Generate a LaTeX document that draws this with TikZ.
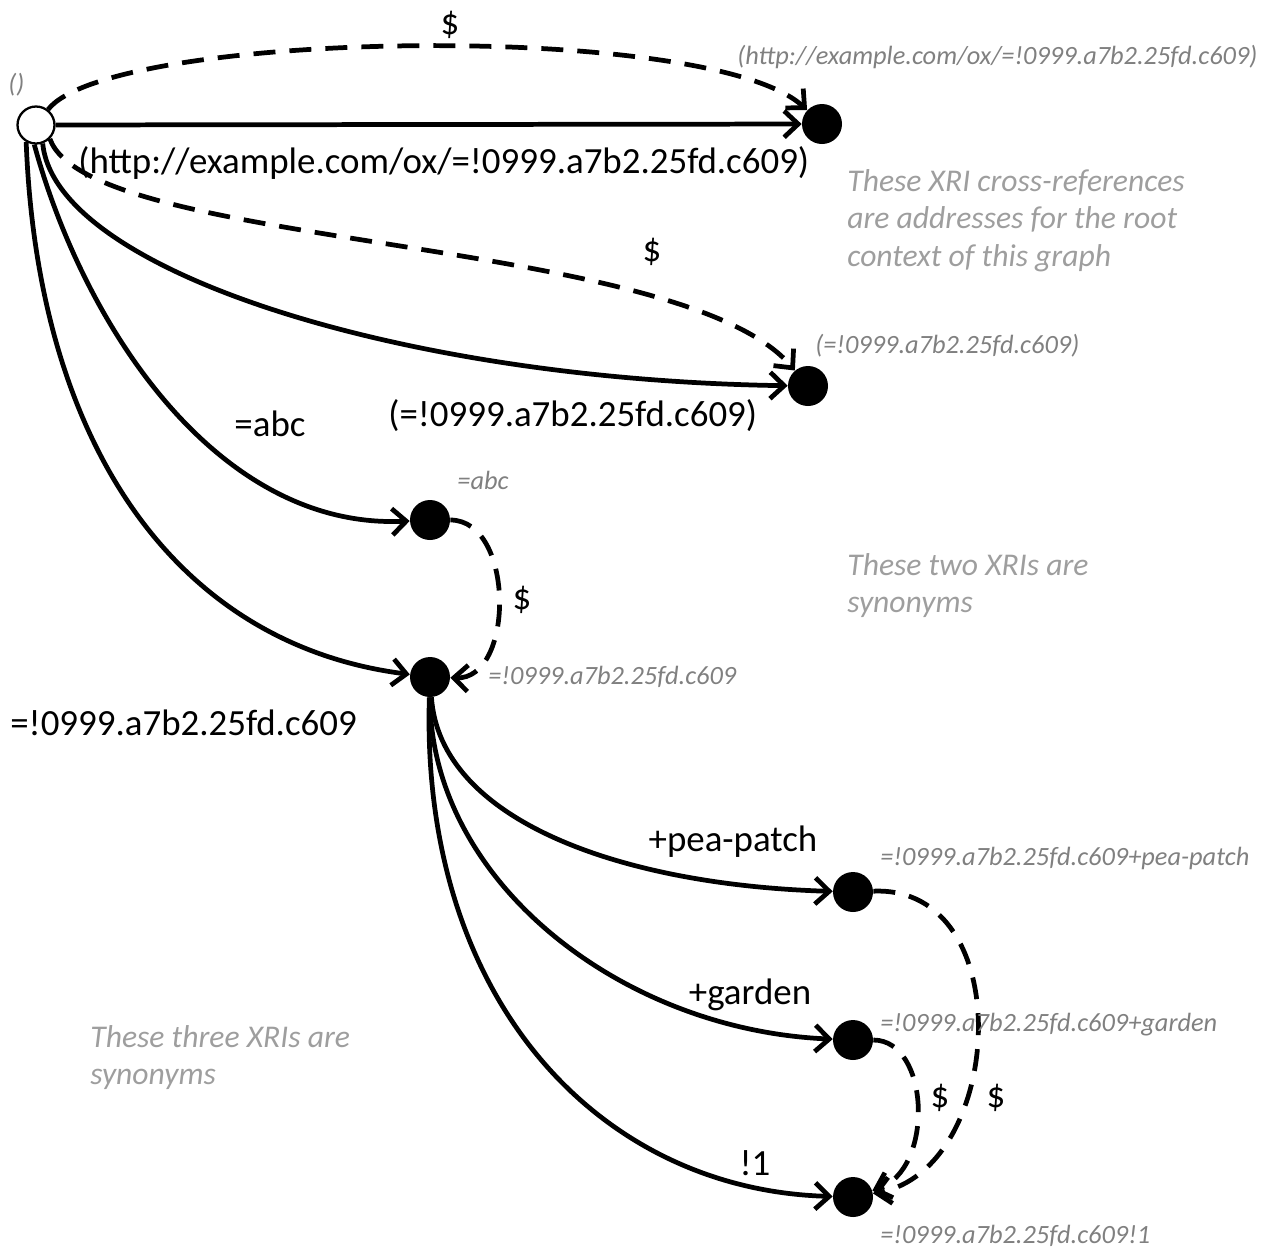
\documentclass[tikz,border=0pt]{standalone}
\usepackage{fontspec}
\setmainfont{Carlito}
\usetikzlibrary{arrows.meta}
\definecolor{annot}{gray}{0.5}
\definecolor{notec}{gray}{0.62}
\begin{document}
\begin{tikzpicture}[x=0.02cm,y=-0.02cm,
 edge/.style={line width=2.7pt, -{Straight Barb[length=8pt,width=15pt]}},
 dsh/.style={edge, dash pattern=on 12.5pt off 8pt},
 dot/.style={circle, fill=black, minimum size=0.8cm, inner sep=0},
 rootn/.style={circle, draw=black, fill=white, line width=1.3pt, minimum size=0.74cm, inner sep=0},
 lbl/.style={font=\fontsize{21}{25}\selectfont, inner sep=0},
 iri/.style={font=\fontsize{15}{18}\selectfont\itshape, text=annot, inner sep=0},
 note/.style={font=\fontsize{18}{21.3}\selectfont\itshape, text=notec, inner sep=0, align=left, anchor=north west}]
\path[use as bounding box] (0,0) rectangle (1270,1249);

% nodes
\node[rootn] (R) at (36,125) {};
\node[dot] (N1) at (822,124) {};
\node[dot] (N2) at (808,386) {};
\node[dot] (N3) at (430,520) {};
\node[dot] (N4) at (430,677) {};
\node[dot] (N5) at (853,892) {};
\node[dot] (N6) at (853,1040) {};
\node[dot] (N7) at (853,1197) {};

% edges
\draw[edge] (R) -- (N1);
\draw[dsh] (R) .. controls (110,30) and (710,20) .. (N1);
\draw[edge] (R.290) .. controls (55,270) and (400,380) .. (N2);
\draw[dsh] (R.315) .. controls (90,250) and (680,235) .. (N2);
\draw[edge] (R.265) .. controls (85,330) and (220,530) .. (N3);
\draw[edge] (R.240) .. controls (38,450) and (180,645) .. (N4);
\draw[dsh] (N3) .. controls (515,520) and (515,680) .. (N4);
\draw[edge] (N4) .. controls (440,820) and (620,885) .. (N5);
\draw[edge] (N4) .. controls (430,880) and (620,1030) .. (N6);
\draw[edge] (N4) .. controls (420,1000) and (600,1190) .. (N7);
\draw[dsh] (N5) .. controls (1020,885) and (1005,1170) .. (N7);
\draw[dsh] (N6) .. controls (930,1040) and (935,1170) .. (N7);

% labels
\node[lbl] (d1) at (450,25) {\$};
\node[lbl, anchor=west] (l1) at (78,163) {(http://example.com/ox/=!0999.a7b2.25fd.c609)};
\node[iri, anchor=west] (i1) at (737,57) {(http://example.com/ox/=!0999.a7b2.25fd.c609)};
\node[iri, anchor=west] (i0) at (8,85) {()};
\node[note] (t1) at (847,169) {These XRI cross-references\\are addresses for the root\\context of this graph};
\node[lbl] (d2) at (652,252) {\$};
\node[iri, anchor=west] (i2) at (815,346) {(=!0999.a7b2.25fd.c609)};
\node[lbl, anchor=west] (l2) at (388,416) {(=!0999.a7b2.25fd.c609)};
\node[lbl] (l3) at (270,424) {=abc};
\node[iri] (i3) at (483,480) {=abc};
\node[lbl] (d3) at (522,600) {\$};
\node[note] (t2) at (847,553) {These two XRIs are\\synonyms};
\node[iri, anchor=west] (i4) at (488,677) {=!0999.a7b2.25fd.c609};
\node[lbl, anchor=west] (l4) at (10,723) {=!0999.a7b2.25fd.c609};
\node[lbl] (l5) at (733,842) {+pea-patch};
\node[iri, anchor=west] (i5) at (880,858) {=!0999.a7b2.25fd.c609+pea-patch};
\node[lbl] (l6) at (750,995) {+garden};
\node[iri, anchor=west] (i6) at (880,1025) {=!0999.a7b2.25fd.c609+garden};
\node[lbl] (d4) at (940,1098) {\$};
\node[lbl] (d5) at (996,1098) {\$};
\node[note] (t3) at (90,1025) {These three XRIs are\\synonyms};
\node[lbl] (l7) at (755,1163) {!1};
\node[iri, anchor=west] (i7) at (880,1236) {=!0999.a7b2.25fd.c609!1};
\end{tikzpicture}
\end{document}
